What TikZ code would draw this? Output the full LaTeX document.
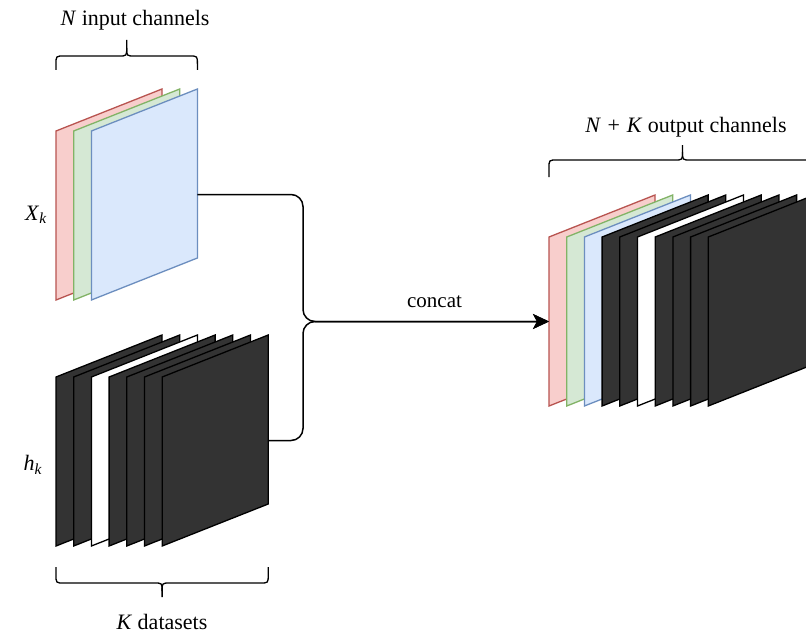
\documentclass[tikz,border=0pt]{standalone}
\usepackage{fontspec}
\setmainfont{Liberation Serif}
\usetikzlibrary{arrows.meta}

% one feature-map slice: a sheared rectangle, 106 wide, 169 tall, sheared by 42
\tikzset{
  panel/.pic={\draw[pic actions] (0,42) -- (106,0) -- (106,169) -- (0,211) -- cycle;},
  redch/.style={fill={rgb,255:red,248;green,206;blue,204}, draw={rgb,255:red,184;green,84;blue,80}, line width=1.3pt},
  greench/.style={fill={rgb,255:red,213;green,232;blue,212}, draw={rgb,255:red,130;green,179;blue,102}, line width=1.3pt},
  bluech/.style={fill={rgb,255:red,218;green,232;blue,252}, draw={rgb,255:red,108;green,142;blue,191}, line width=1.3pt},
  darkch/.style={fill={rgb,255:red,51;green,51;blue,51}, draw=black, line width=1.3pt},
  whitech/.style={fill=white, draw=black, line width=1.3pt},
  conn/.style={draw=black, line width=1.5pt, rounded corners=12pt},
  bracestyle/.style={draw=black, line width=1.3pt},
  lbl/.style={font=\fontsize{22}{26}\selectfont, inner sep=0pt},
  smalllbl/.style={font=\fontsize{21}{25}\selectfont, inner sep=0pt},
}

% horizontal curly bracket: #1 left x, #2 right x, #3 tip y, #4 bar y, #5 peak y, #6 corner radius (signed)
\newcommand\curlybrace[6]{%
  \pgfmathsetmacro\bcx{(#1+#2)/2}%
  \draw[bracestyle] (#1,#3) -- ({#1},{#4+#6}) .. controls (#1,#4) .. ({#1+abs(#6)},#4)
    -- ({\bcx-abs(#6)},#4) .. controls (\bcx,#4) .. (\bcx,{#4-#6}) -- (\bcx,#5);
  \draw[bracestyle] (\bcx,{#4-#6}) .. controls (\bcx,#4) .. ({\bcx+abs(#6)},#4)
    -- ({#2-abs(#6)},#4) .. controls (#2,#4) .. ({#2},{#4+#6}) -- (#2,#3);
}

\begin{document}
\begin{tikzpicture}[x=1pt, y=-1pt]
  \clip (0,0) rectangle (806,634);
  \fill[white] (0,0) rectangle (806,634);

  % input channels X_k
  \pic[redch]   at (56,89)   {panel};
  \pic[greench] at (73.7,89) {panel};
  \pic[bluech]  at (91.4,89) {panel};

  % dataset channels h_k
  \pic[darkch]  at (56,335)    {panel};
  \pic[darkch]  at (73.7,335)  {panel};
  \pic[whitech] at (91.4,335)  {panel};
  \pic[darkch]  at (109.1,335) {panel};
  \pic[darkch]  at (126.8,335) {panel};
  \pic[darkch]  at (144.5,335) {panel};
  \pic[darkch]  at (162.2,335) {panel};

  % concatenated output channels
  \pic[redch]   at (549,195)   {panel};
  \pic[greench] at (566.7,195) {panel};
  \pic[bluech]  at (584.4,195) {panel};
  \pic[darkch]  at (602.1,195) {panel};
  \pic[darkch]  at (619.8,195) {panel};
  \pic[whitech] at (637.5,195) {panel};
  \pic[darkch]  at (655.2,195) {panel};
  \pic[darkch]  at (672.9,195) {panel};
  \pic[darkch]  at (690.6,195) {panel};
  \pic[darkch]  at (708.3,195) {panel};

  % connector ends
  \coordinate (xin) at (197.4,194.5);
  \coordinate (hin) at (268.2,440.5);
  \coordinate (join) at (303,321.5);
  \coordinate (out) at (549,321.5);

  \draw[conn, -{Stealth[length=16pt, width=15pt, inset=4pt]}] (xin) -| (join) -- (out);
  \draw[conn, -{Stealth[length=16pt, width=15pt, inset=4pt]}] (hin) -| (join) -- (out);

  % brackets
  \curlybrace{56}{197.4}{70}{56}{40}{8}
  \curlybrace{56}{268.2}{567}{583}{597}{-8}
  \curlybrace{549}{816}{177}{160}{145}{8}

  % labels
  \node[lbl] (tin)  at (135,20)   {\textit{N} input channels};
  \node[lbl] (tk)   at (162,622)  {\textit{K} datasets};
  \node[lbl] (tout) at (686,127) {\textit{N}\hspace{0.3em}+\hspace{0.3em}\textit{K} output channels};
  \node[smalllbl] (tcat) at (434.5,302) {concat};
  \node[lbl] (txk)  at (36,215)   {\textit{X}\textsubscript{\textit{k}}};
  \node[lbl] (thk)  at (33,465)   {\textit{h}\textsubscript{\textit{k}}};
\end{tikzpicture}
\end{document}
